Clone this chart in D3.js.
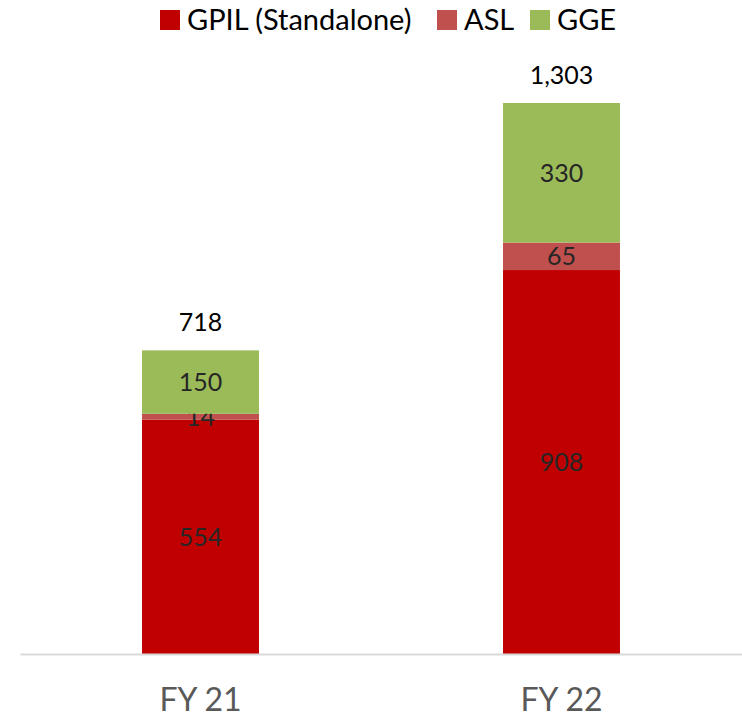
<!DOCTYPE html>
<meta charset="utf-8">
<style>
body { margin: 0; background: #fff; }
text { font-family: Lato, "Open Sans", sans-serif; }
</style>
<svg width="742" height="718"></svg>
<script src="https://d3js.org/d3.v7.min.js"></script>
<script>

var categories = ["FY 21", "FY 22"];
var seriesNames = ["GPIL (Standalone)", "ASL", "GGE"];
var gpil = [554, 908];
var asl = [14, 65];
var gge = [150, 330];
var totalLabels = ["718", "1,303"];
var colors = ["#C00000", "#C0504D", "#9BBB59"];

var svg = d3.select("svg"),
    width = +svg.attr("width"),
    height = +svg.attr("height");

var baseY = 654;

var rows = categories.map(function(c, i) {
  return { cat: c, "GPIL (Standalone)": gpil[i], "ASL": asl[i], "GGE": gge[i], total: totalLabels[i] };
});

var x = d3.scaleBand()
    .domain(categories)
    .range([20, 742])
    .paddingInner(0.676)
    .paddingOuter(0.338);

var y = d3.scaleLinear()
    .domain([0, 1303])
    .range([baseY, 103]);

var stack = d3.stack().keys(seriesNames)(rows);

var layer = svg.append("g").selectAll("g")
  .data(stack)
  .enter().append("g")
    .attr("fill", function(d, i) { return colors[i]; });

layer.selectAll("rect")
  .data(function(d) { return d; })
  .enter().append("rect")
    .attr("x", function(d) { return x(d.data.cat); })
    .attr("y", function(d) { return y(d[1]); })
    .attr("width", x.bandwidth())
    .attr("height", function(d) { return y(d[0]) - y(d[1]); });

// segment labels
layer.selectAll("text")
  .data(function(d) { return d; })
  .enter().append("text")
    .attr("x", function(d) { return x(d.data.cat) + x.bandwidth() / 2; })
    .attr("y", function(d) { return (y(d[0]) + y(d[1])) / 2; })
    .attr("dy", "0.36em")
    .attr("text-anchor", "middle")
    .attr("fill", "#262626")
    .style("font-size", "25px")
    .text(function(d) { return d[1] - d[0]; });

// totals
svg.append("g").selectAll("text")
  .data(rows)
  .enter().append("text")
    .attr("x", function(d) { return x(d.cat) + x.bandwidth() / 2; })
    .attr("y", function(d) { return y(d["GPIL (Standalone)"] + d.ASL + d.GGE) - 28; })
    .attr("dy", "0.36em")
    .attr("text-anchor", "middle")
    .attr("fill", "#000")
    .style("font-size", "25px")
    .text(function(d) { return d.total; });

// axis
var axis = svg.append("g")
    .attr("transform", "translate(0," + baseY + ")")
    .call(d3.axisBottom(x).tickSize(0).tickPadding(34));
axis.select(".domain").attr("stroke", "#D9D9D9").attr("stroke-width", 2);
axis.selectAll("text")
    .attr("fill", "#595959")
    .style("font-size", "32px")
    .style("font-family", "Lato, 'Open Sans', sans-serif");

// legend
var legendX = [160, 437, 530];
var legend = svg.append("g").selectAll("g")
  .data(seriesNames)
  .enter().append("g")
    .attr("transform", function(d, i) { return "translate(" + legendX[i] + ",0)"; });

legend.append("rect")
    .attr("x", 0)
    .attr("y", 10)
    .attr("width", 20)
    .attr("height", 20)
    .attr("fill", function(d, i) { return colors[i]; });

legend.append("text")
    .attr("x", 27)
    .attr("y", 20)
    .attr("dy", "0.36em")
    .attr("fill", "#000")
    .style("font-size", "29px")
    .text(function(d) { return d; });

</script>
